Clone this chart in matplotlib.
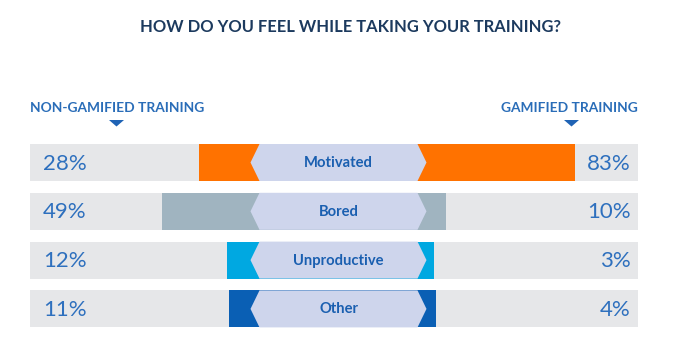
import matplotlib.pyplot as plt
from matplotlib.patches import Polygon

# data
categories = ["Motivated", "Bored", "Unproductive", "Other"]
non_gamified = [28, 49, 12, 11]
gamified = [83, 10, 3, 4]
bar_colors = ["#FF7200", "#A0B4C0", "#00A8E1", "#0A5FB4"]

title = "HOW DO YOU FEEL WHILE TAKING YOUR TRAINING?"
left_header = "NON-GAMIFIED TRAINING"
right_header = "GAMIFIED TRAINING"

# layout (pixel coordinates, y downward)
W, H = 673, 348
center = 338.5
row_y0, row_pitch, row_h = 162.5, 48.8, 37
track_left, track_right = 30, 638
base_ext, px_per_pct = 90, 1.77   # bar half-length = base + value * scale
label_half, label_tip = 79, 88

fam = ["Lato", "DejaVu Sans"]
gray = "#E6E7E9"
label_fill = "#CED5EC"
label_text = "#1A5FB0"
pct_color = "#2E70BE"

fig = plt.figure(figsize=(W / 100, H / 100), dpi=100)
ax = fig.add_axes([0, 0, 1, 1])
ax.set_xlim(0, W)
ax.set_ylim(H, 0)
ax.axis("off")

ax.text(350, 27.5, title, ha="center", va="center", fontsize=11.9,
        color="#1C3A5E", fontweight="bold", family=fam)

ax.text(track_left, 107.5, left_header, ha="left", va="center", fontsize=9.9,
        color="#2A6DB8", fontweight="bold", family=fam)
ax.text(track_right, 107.5, right_header, ha="right", va="center", fontsize=9.9,
        color="#2A6DB8", fontweight="bold", family=fam)
for cx in (116.5, 571.5):
    ax.add_patch(Polygon([(cx - 7.5, 120), (cx + 7.5, 120), (cx, 126.5)],
                         closed=True, color="#1F63B5", lw=0))

for i, cat in enumerate(categories):
    y = row_y0 + i * row_pitch
    ax.barh(y, track_right - track_left, left=track_left, height=row_h,
            color=gray, lw=0)
    le = base_ext + non_gamified[i] * px_per_pct
    re = base_ext + gamified[i] * px_per_pct
    ax.barh(y, le + re, left=center - le, height=row_h,
            color=bar_colors[i], lw=0)

    top, bot = y - row_h / 2, y + row_h / 2
    hexagon = [(center - label_half, top), (center + label_half, top),
               (center + label_tip, y), (center + label_half, bot),
               (center - label_half, bot), (center - label_tip, y)]
    ax.add_patch(Polygon(hexagon, closed=True, color=label_fill, lw=0))
    ax.text(center, y + 0.5, cat, ha="center", va="center", fontsize=10.6,
            color=label_text, fontweight="bold", family=fam)

    ax.text(43, y + 1, f"{non_gamified[i]}%", ha="left", va="center",
            fontsize=16, color=pct_color, fontweight="normal", family=fam)
    ax.text(631, y + 1, f"{gamified[i]}%", ha="right", va="center",
            fontsize=16, color=pct_color, fontweight="normal", family=fam)

fig.savefig("out.png", dpi=100)
